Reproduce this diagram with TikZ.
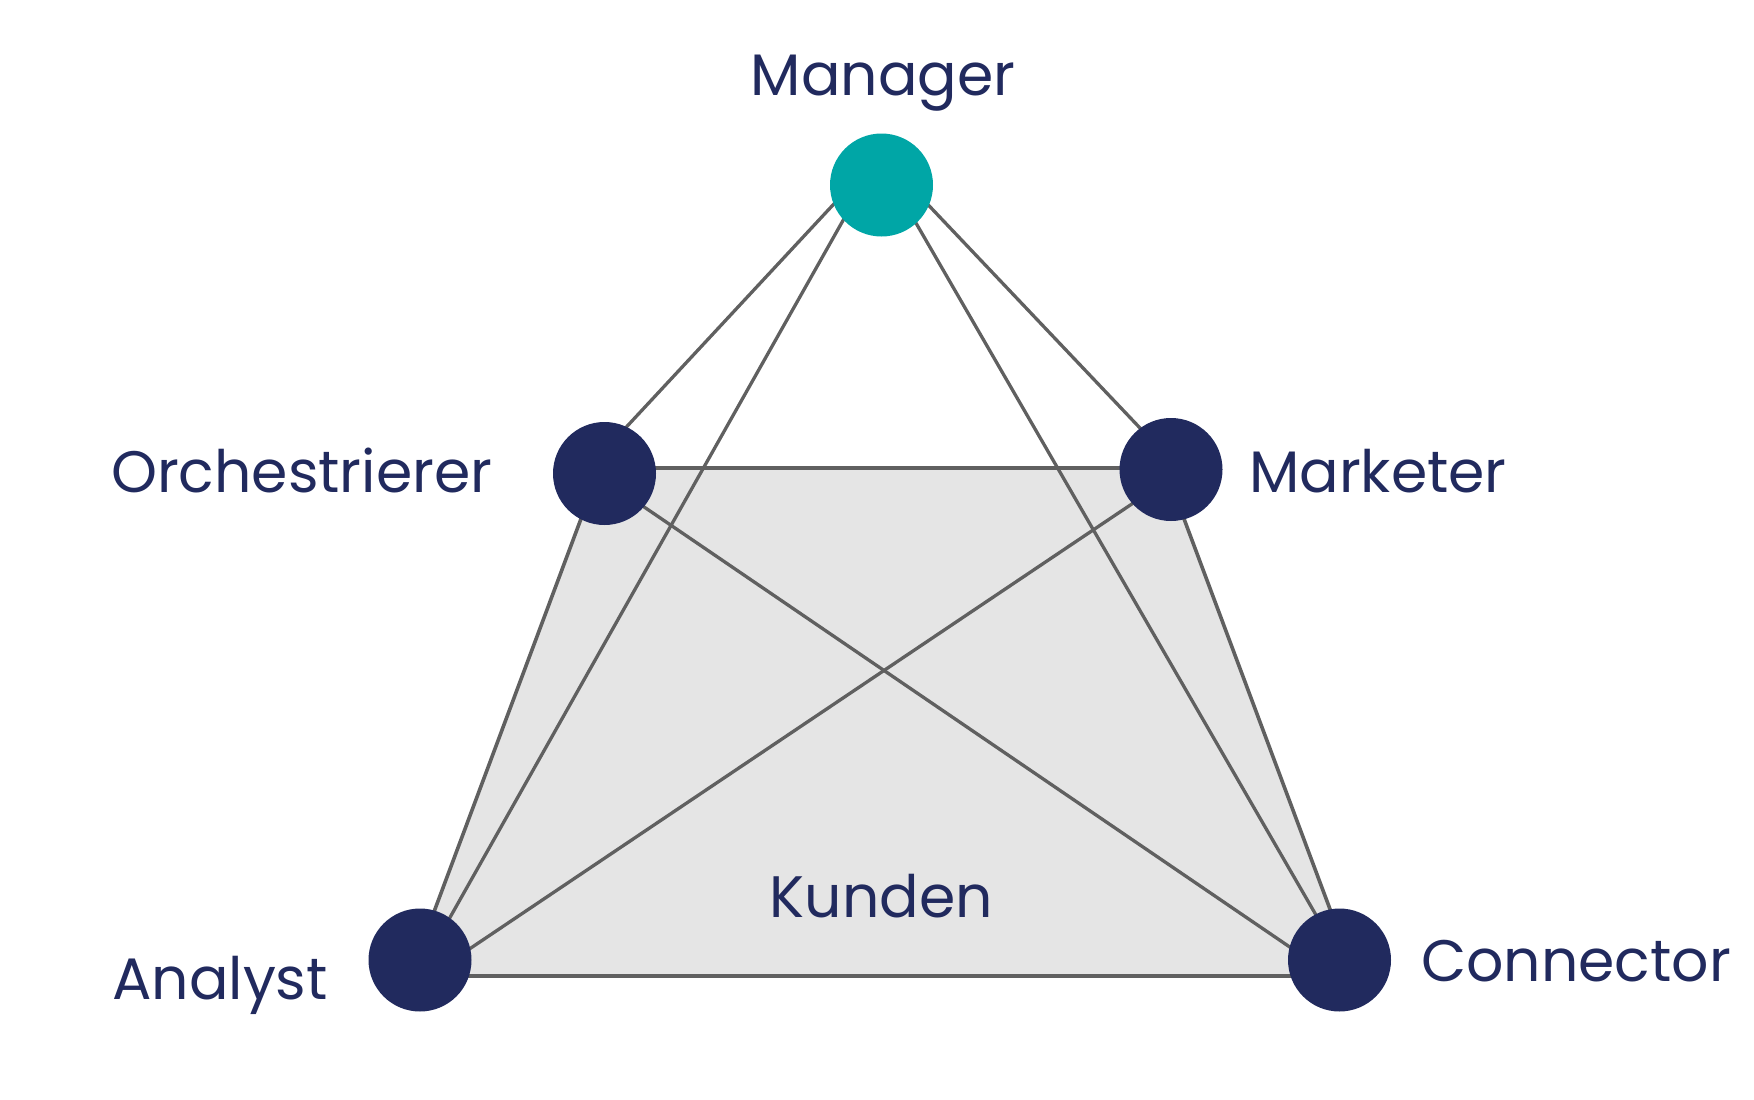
\documentclass[tikz,border=0pt]{standalone}
\usepackage{fontspec}
\setmainfont{Poppins}
\pgfdeclarelayer{background}
\pgfsetlayers{background,main}
\definecolor{navy}{HTML}{212A5E}
\definecolor{teal}{HTML}{00A6A6}
\definecolor{linegray}{HTML}{606060}
\definecolor{fillgray}{HTML}{E5E5E5}
\tikzset{
  dot/.style={circle, fill=navy, draw=none, minimum size=103pt, inner sep=0pt},
  edge/.style={draw=linegray, line width=3.3pt},
  lbl/.style={text=navy, inner sep=0pt, font=\fontsize{58.5}{62}\selectfont}
}
\begin{document}
\begin{tikzpicture}[x=1pt, y=-1pt]
\useasboundingbox (0,0) rectangle (1754,1100);
% nodes
\node[dot, fill=teal] (man) at (881.5,185) {};
\node[dot] (orc) at (604.5,473.5) {};
\node[dot] (mkt) at (1171,469.5) {};
\node[dot] (ana) at (420,960) {};
\node[dot] (con) at (1339.5,960) {};
\begin{pgfonlayer}{background}
  \filldraw[fill=fillgray, draw=linegray, line width=3.6pt, line join=round]
    ([shift={(-4.5,-5.5)}]orc.center) -- ([shift={(-6,-1.5)}]mkt.center)
    -- ([shift={(15.5,16)}]con.center) -- ([shift={(-10,16)}]ana.center) -- cycle;
  \draw[edge] ([shift={(-36.5,7)}]man.center) -- ([shift={(0.5,-23.5)}]orc.center);
  \draw[edge] ([shift={(-18.5,0)}]man.center) -- ([shift={(6,0)}]ana.center);
  \draw[edge] ([shift={(12.5,0)}]man.center) -- ([shift={(2.5,0)}]con.center);
  \draw[edge] ([shift={(34.5,7)}]man.center) -- ([shift={(-13,-22.5)}]mkt.center);
  \draw[edge] ([shift={(-9.5,0)}]orc.center) -- ([shift={(-39.5,-6)}]con.center);
  \draw[edge] ([shift={(4,5.5)}]mkt.center) -- ([shift={(33,0)}]ana.center);
\end{pgfonlayer}
% labels
\node[lbl, anchor=base] (tman) at (883,95) {Manager};
\node[lbl, anchor=base east] (torc) at (492.5,492) {Orchestrierer};
\node[lbl, anchor=base west] (tmkt) at (1249,492) {Marketer};
\node[lbl, anchor=base west] (tana) at (112,999) {Analyst};
\node[lbl, anchor=base west] (tcon) at (1421,981) {Connector};
\node[lbl, anchor=base] (tkun) at (881.5,917) {Kunden};
\end{tikzpicture}
\end{document}
